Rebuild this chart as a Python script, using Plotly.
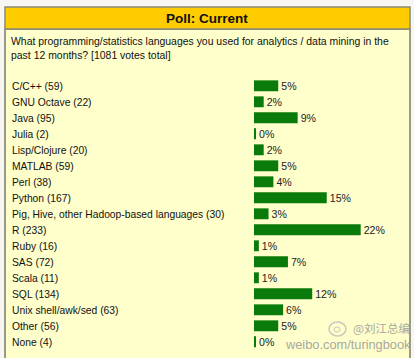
import plotly.graph_objects as go

W, H = 414, 358

languages = ["C/C++", "GNU Octave", "Java", "Julia", "Lisp/Clojure", "MATLAB", "Perl",
             "Python", "Pig, Hive, other Hadoop-based languages", "R", "Ruby", "SAS",
             "Scala", "SQL", "Unix shell/awk/sed", "Other", "None"]
votes = [59, 22, 95, 2, 20, 59, 38, 167, 30, 233, 16, 72, 11, 134, 63, 56, 4]
percents = [5, 2, 9, 0, 2, 5, 4, 15, 3, 22, 1, 7, 1, 12, 6, 5, 0]
title_text = "Poll: Current"
question = ("What programming/statistics languages you used for analytics / data mining in the"
            "<br>past 12 months? [1081 votes total]")

FONT = "Arial, Liberation Sans, sans-serif"

def px(x):
    return x / W

def py(y):
    return 1 - y / H

n = len(languages)
idx = list(range(n))
# tiny minimum width so 0% bars remain visible, as in the original poll widget
bar_len = [max(p, 0.4) for p in percents]

# pixel mapping: x_pixel = 254 + 4.85 * pct ; row center = 85.8 + 16 * i
xscale = 4.85
x0 = -254 / xscale
x1 = x0 + W / xscale
rowpx = 16.0
r_top = -85.8 / rowpx
r_bot = r_top + H / rowpx

fig = go.Figure()
fig.add_trace(go.Bar(
    x=bar_len, y=idx, orientation="h",
    marker=dict(color="#0A7A0A", line=dict(width=0)),
    width=0.68,
    text=[f"{p}%" for p in percents], textposition="outside",
    textfont=dict(family=FONT, size=10.6, color="#222222"),
    constraintext="none", cliponaxis=False, hoverinfo="skip",
))

shapes = [
    # outer background
    dict(type="rect", xref="paper", yref="paper", x0=0, x1=1, y0=0, y1=1,
         fillcolor="#F7F6F0", line=dict(width=0), layer="below"),
    # panel body
    dict(type="rect", xref="paper", yref="paper", x0=px(5), x1=px(410), y0=py(H + 5), y1=py(29),
         fillcolor="#FFFFCC", line=dict(color="#9A9A8A", width=2), layer="below"),
    # title bar
    dict(type="rect", xref="paper", yref="paper", x0=px(5), x1=px(410), y0=py(29), y1=py(7),
         fillcolor="#FFCC00", line=dict(color="#8A8A7A", width=1.5), layer="below"),
    # weibo logo approximation
    dict(type="circle", xref="paper", yref="paper", x0=px(329), x1=px(346), y0=py(336), y1=py(322),
         fillcolor="rgba(0,0,0,0)", line=dict(color="#C8C8C0", width=1.5)),
    dict(type="circle", xref="paper", yref="paper", x0=px(334), x1=px(340), y0=py(332), y1=py(327),
         fillcolor="rgba(0,0,0,0)", line=dict(color="#C8C8C0", width=1)),
]

annotations = [
    dict(text=f"<b>{title_text}</b>", xref="paper", yref="paper", x=px(207), y=py(18),
         xanchor="center", yanchor="middle", showarrow=False,
         font=dict(family=FONT, size=13.5, color="#111111")),
    dict(text=question, xref="paper", yref="paper", x=px(9), y=py(48.5),
         xanchor="left", yanchor="middle", align="left", showarrow=False,
         font=dict(family=FONT, size=10.45, color="#111111")),
    dict(text="@刘江总编", xref="paper", yref="paper", x=px(351), y=py(328),
         xanchor="left", yanchor="middle", showarrow=False,
         font=dict(family="Noto Sans CJK SC, sans-serif", size=11.5, color="#A8A8A0")),
    dict(text="weibo.com/turingbook", xref="paper", yref="paper", x=px(283), y=py(344),
         xanchor="left", yanchor="middle", showarrow=False,
         font=dict(family=FONT, size=12.8, color="#A8A8A0")),
]
for i, (lang, v) in enumerate(zip(languages, votes)):
    annotations.append(dict(
        text=f"{lang} ({v})", xref="paper", yref="y", x=px(9.5), y=i + 0.06,
        xanchor="left", yanchor="middle", showarrow=False,
        font=dict(family=FONT, size=10.3, color="#111111")))

fig.update_layout(
    width=W, height=H, margin=dict(l=0, r=0, t=0, b=0),
    paper_bgcolor="#F7F6F0", plot_bgcolor="rgba(0,0,0,0)",
    showlegend=False, shapes=shapes, annotations=annotations,
    xaxis=dict(range=[x0, x1], visible=False, fixedrange=True),
    yaxis=dict(range=[r_bot, r_top], visible=False, fixedrange=True),
)

fig.write_html("out.html")
